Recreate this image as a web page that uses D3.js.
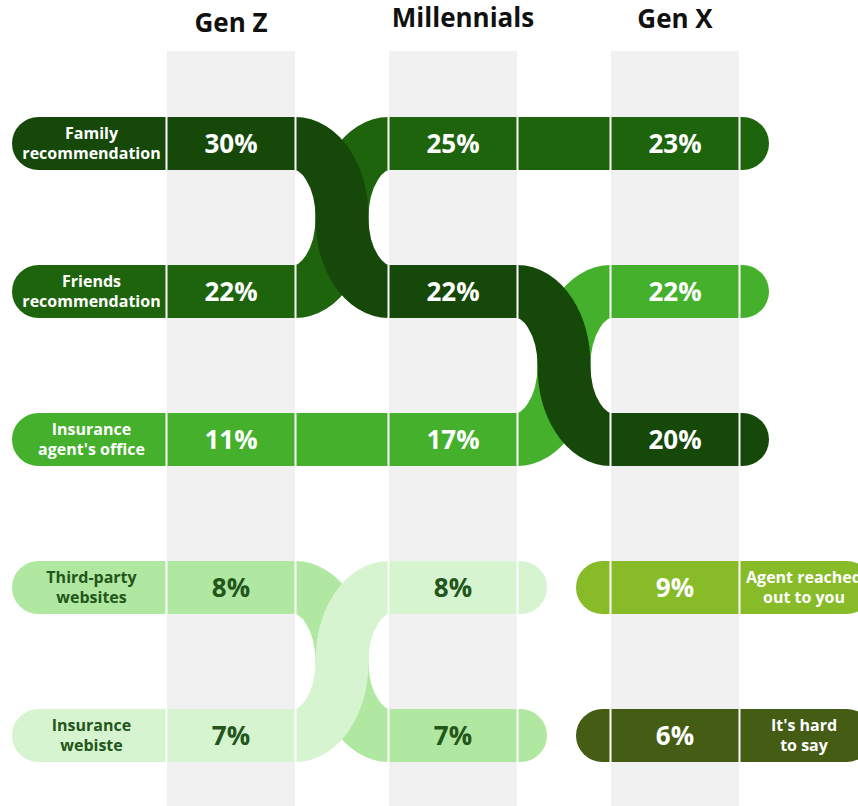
<!DOCTYPE html>
<html><head><meta charset="utf-8">
<script src="https://cdn.jsdelivr.net/npm/d3@7"></script>
<style>body{margin:0;background:#fff}svg{display:block;font-family:"Open Sans",sans-serif}</style>
</head><body><svg id="c" width="858" height="806"></svg>
<script>
// ---- data ----
const generations = ["Gen Z", "Millennials", "Gen X"];
const categories = ["Family recommendation", "Friends recommendation", "Insurance agent's office",
  "Third-party websites", "Insurance webiste", "Agent reached out to you", "It's hard to say"];
const labelLines = [["Family", "recommendation"], ["Friends", "recommendation"], ["Insurance", "agent's office"],
  ["Third-party", "websites"], ["Insurance", "webiste"], ["Agent reached", "out to you"], ["It's hard", "to say"]];
const genZValues = [30, 22, 11, 8, 7, null, null];
const millennialsValues = [22, 25, 17, 7, 8, null, null];
const genXValues = [20, 23, 22, null, null, 9, 6];
const seriesValues = [genZValues, millennialsValues, genXValues];
const colors = ["#154809", "#1e640c", "#44b02b", "#b0e7a1", "#d6f4d0", "#87bb28", "#455c15"];
const textColors = ["#fff", "#fff", "#fff", "#22561a", "#22561a", "#fff", "#fff"];
const ribbonOrder = [1, 2, 0, 3, 4, 5, 6];

// ---- layout ----
const W = 858, H = 806;
const svg = d3.select("#c");
const x = d3.scaleBand().domain(generations).range([167, 739]).paddingInner(94 / 222).paddingOuter(0);
const y = d3.scaleBand().domain(d3.range(5)).range([117, 762]).paddingInner(95 / 148).paddingOuter(0);
const bw = x.bandwidth(), bh = y.bandwidth();

// rank of each category within each generation (descending by value)
const rank = generations.map((g, gi) => {
  const vals = seriesValues[gi];
  const idx = d3.range(categories.length).filter(i => vals[i] != null)
    .sort((a, b) => vals[b] - vals[a]);
  const m = {};
  idx.forEach((c, k) => m[c] = k);
  return m;
});

// background bands
svg.append("g").selectAll("rect").data(generations).join("rect")
  .attr("x", d => x(d)).attr("y", 51).attr("width", bw).attr("height", H - 51)
  .attr("fill", "#f1f1f1");

// headers
const headerPos = { "Gen Z": [0, 32], "Millennials": [10, 27], "Gen X": [0, 28] };
svg.append("g").selectAll("text").data(generations).join("text")
  .attr("x", d => x(d) + bw / 2 + headerPos[d][0]).attr("y", d => headerPos[d][1])
  .attr("text-anchor", "middle").attr("font-size", 26).attr("font-weight", 700).attr("fill", "#111")
  .text(d => d);

function present(ci) { return generations.map((g, gi) => seriesValues[gi][ci] != null ? gi : -1).filter(v => v >= 0); }
function yc(gi, ci) { return y(rank[gi][ci]) + bh / 2; }

function sidePath(x0, x1, yt, h, side) {
  const p = d3.path(), rr = h / 2;
  if (side === "left") {
    p.moveTo(x1, yt); p.lineTo(x0 + rr, yt);
    p.arc(x0 + rr, yt + rr, rr, -Math.PI / 2, Math.PI / 2, true);
    p.lineTo(x1, yt + h); p.closePath();
  } else {
    p.moveTo(x0, yt); p.lineTo(x1 - rr, yt);
    p.arc(x1 - rr, yt + rr, rr, -Math.PI / 2, Math.PI / 2, false);
    p.lineTo(x0, yt + h); p.closePath();
  }
  return p.toString();
}

function ribbonPath(xa, ya, xb, yb) {
  if (Math.abs(ya - yb) < 0.5) return `M${xa},${ya}L${xb},${yb}`;
  const rx = (xb - xa) / 2, ry = Math.abs(yb - ya) / 2;
  const xm = (xa + xb) / 2, ym = (ya + yb) / 2;
  const down = yb > ya;
  return `M${xa},${ya}A${rx},${ry} 0 0 ${down ? 1 : 0} ${xm},${ym}A${rx},${ry} 0 0 ${down ? 0 : 1} ${xb},${yb}`;
}

const gRib = svg.append("g"), gBar = svg.append("g"), gSep = svg.append("g"), gTxt = svg.append("g");

// ribbons
ribbonOrder.forEach(ci => {
  const gs = present(ci);
  for (let k = 0; k < gs.length - 1; k++) {
    const ga = gs[k], gb = gs[k + 1];
    const xa = x(generations[ga]) + bw, xb = x(generations[gb]);
    gRib.append("path").attr("d", ribbonPath(xa, yc(ga, ci), xb, yc(gb, ci))).attr("fill", "none")
      .attr("stroke", colors[ci]).attr("stroke-width", bh).attr("stroke-linecap", "butt");
  }
});

// bars, caps, labels
categories.forEach((cat, ci) => {
  const gs = present(ci);
  const first = gs[0], last = gs[gs.length - 1];
  gs.forEach(gi => {
    const x0 = x(generations[gi]), yt = y(rank[gi][ci]);
    gBar.append("rect").attr("x", x0).attr("y", yt).attr("width", bw).attr("height", bh).attr("fill", colors[ci]);
    gSep.append("line").attr("x1", x0 - 0.5).attr("x2", x0 - 0.5).attr("y1", yt).attr("y2", yt + bh)
      .attr("stroke", "#fff").attr("stroke-width", 2);
    gSep.append("line").attr("x1", x0 + bw + 0.5).attr("x2", x0 + bw + 0.5).attr("y1", yt).attr("y2", yt + bh)
      .attr("stroke", "#fff").attr("stroke-width", 2);
    gTxt.append("text").attr("x", x0 + bw / 2).attr("y", yt + bh / 2 + 9.5)
      .attr("text-anchor", "middle").attr("font-size", 26).attr("font-weight", 700)
      .attr("fill", textColors[ci]).text(seriesValues[gi][ci] + "%");
  });
  const fx0 = x(generations[first]), lx1 = x(generations[last]) + bw;
  const yf = y(rank[first][ci]), yl = y(rank[last][ci]);
  let labelX, labelYt;
  if (first === 0) {
    gBar.append("path").attr("d", sidePath(12, fx0, yf, bh, "left")).attr("fill", colors[ci]);
    labelX = (12 + fx0) / 2 + 2; labelYt = yf;
    gBar.append("path").attr("d", sidePath(lx1, lx1 + 30, yl, bh, "right")).attr("fill", colors[ci]);
  } else {
    gBar.append("path").attr("d", sidePath(fx0 - 35, fx0, yf, bh, "left")).attr("fill", colors[ci]);
    gBar.append("path").attr("d", sidePath(lx1, lx1 + 134, yl, bh, "right")).attr("fill", colors[ci]);
    labelX = lx1 + 65; labelYt = yl;
  }
  const t = gTxt.append("text").attr("x", labelX).attr("text-anchor", "middle")
    .attr("font-size", 16).attr("font-weight", 700).attr("fill", textColors[ci]);
  labelLines[ci].forEach((ln, li) => {
    t.append("tspan").attr("x", labelX).attr("y", labelYt + bh / 2 - 4.5 + li * 20).text(ln);
  });
});
</script></body></html>
